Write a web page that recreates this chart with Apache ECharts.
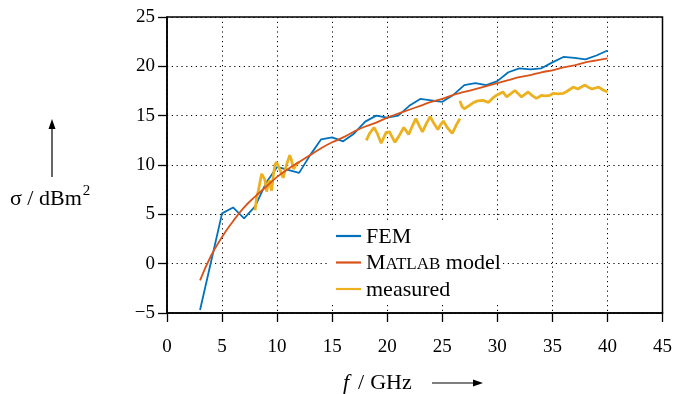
<!DOCTYPE html>
<html>
<head>
<meta charset="utf-8">
<script src="https://cdn.jsdelivr.net/npm/echarts@6/dist/echarts.min.js"></script>
<style>
html, body { margin: 0; padding: 0; background: #fff; }
#chart { width: 675px; height: 394px; }
</style>
</head>
<body>
<div id="chart"></div>
<script>
// frequency grid for the FEM and model curves (GHz)
var freqGHz = [3, 4, 5, 6, 7, 8, 9, 10, 11, 12, 13, 14, 15, 16, 17, 18, 19, 20, 21, 22,
  23, 24, 25, 26, 27, 28, 29, 30, 31, 32, 33, 34, 35, 36, 37, 38, 39, 40]
var femValues = [-4.7, 0.2, 5.1, 5.7, 4.6, 5.8, 8.2, 9.8, 9.5, 9.2, 11.0, 12.6, 12.8, 12.4, 13.2, 14.4, 15.0, 14.8, 15.0, 16.0,
  16.7, 16.55, 16.4, 17.1, 18.1, 18.3, 18.1, 18.5, 19.4, 19.8, 19.7, 19.8, 20.4, 20.95, 20.85, 20.7, 21.1, 21.6]
var modelValues = [-1.7, 0.8, 2.7, 4.3, 5.7, 6.8, 7.8, 8.8, 9.6, 10.3, 11.0, 11.7, 12.3, 12.8, 13.4, 13.9, 14.3, 14.8, 15.2, 15.6,
  16.0, 16.4, 16.7, 17.1, 17.4, 17.7, 18.0, 18.3, 18.6, 18.9, 19.1, 19.4, 19.6, 19.9, 20.1, 20.4, 20.6, 20.8]

// measured data, three separate sweeps [f, sigma]
var measuredLow = [[8.0, 5.4], [8.15, 6.8], [8.3, 7.4], [8.45, 8.3], [8.6, 9.1], [8.7, 9.3], [8.8, 8.7], [8.9, 8.45],
  [9.05, 7.3], [9.15, 7.9], [9.3, 8.45], [9.4, 7.8], [9.5, 7.4], [9.65, 8.9], [9.8, 10.0], [9.95, 10.3], [10.1, 10.15],
  [10.3, 9.4], [10.55, 8.7], [10.85, 10.0], [11.15, 11.0], [11.3, 10.5], [11.5, 9.6], [11.75, 10.1], [12.0, 10.3]]
var measuredMid = [[18.1, 12.5], [18.4, 13.2], [18.8, 13.8], [19.1, 13.2], [19.45, 12.2], [19.9, 13.3], [20.2, 13.35],
  [20.7, 12.3], [21.1, 13.0], [21.5, 13.8], [21.95, 13.1], [22.3, 14.0], [22.6, 14.7], [22.9, 14.0], [23.2, 13.35],
  [23.55, 14.2], [23.9, 14.9], [24.25, 14.2], [24.6, 13.6], [24.85, 14.1], [25.1, 14.45], [25.45, 13.8], [25.9, 13.2],
  [26.25, 14.0], [26.6, 14.7]]
var measuredHigh = [[26.6, 16.5], [26.8, 15.9], [27.0, 15.7], [27.4, 16.0], [27.8, 16.3], [28.2, 16.5], [28.7, 16.55],
  [29.2, 16.35], [29.6, 16.8], [29.9, 17.05], [30.5, 17.4], [30.85, 16.9], [31.2, 17.2], [31.6, 17.55], [32.2, 16.9],
  [32.8, 17.4], [33.2, 17.0], [33.55, 16.75], [34.0, 17.05], [34.4, 17.0], [34.75, 17.05], [35.05, 17.25], [35.5, 17.2],
  [35.96, 17.25], [36.3, 17.45], [36.9, 17.9], [37.3, 17.7], [37.96, 18.1], [38.3, 17.85], [38.6, 17.7], [39.2, 17.9],
  [39.6, 17.6], [40.0, 17.4]]

var legendNames = ['FEM', 'MATLAB model', 'measured']

var serif = '"Liberation Serif", "DejaVu Serif", serif'
var colors = { fem: '#0072BD', model: '#D95319', measured: '#EDB120' }

function pairs (xs, ys) {
  return xs.map(function (x, i) { return [x, ys[i]] })
}

function measuredSeries (data) {
  return {
    name: 'measured',
    type: 'line',
    data: data,
    symbol: 'none',
    lineStyle: { color: colors.measured, width: 2.8 },
    itemStyle: { color: colors.measured },
    z: 3
  }
}

var myChart = echarts.init(document.getElementById('chart'))
var option = {
  animation: false,
  grid: {
    left: 167,
    right: 12,
    top: 17,
    bottom: 81,
    show: true,
    borderColor: '#000',
    borderWidth: 1.5,
    backgroundColor: 'transparent'
  },
  xAxis: {
    type: 'value',
    min: 0,
    max: 45,
    interval: 5,
    axisLine: { onZero: false, lineStyle: { color: '#000', width: 1.6 } },
    axisTick: { inside: false, length: 9, lineStyle: { color: '#000', width: 1.3 } },
    axisLabel: { color: '#000', fontFamily: serif, fontSize: 19, margin: 25 },
    splitLine: { show: true, lineStyle: { color: '#000', width: 1, type: [1.2, 3.6] } }
  },
  yAxis: {
    type: 'value',
    min: -5,
    max: 25,
    interval: 5,
    axisLine: { onZero: false, lineStyle: { color: '#000', width: 1.6 } },
    axisTick: { inside: false, length: 9, lineStyle: { color: '#000', width: 1.3 } },
    axisLabel: {
      color: '#000',
      fontFamily: serif,
      fontSize: 19,
      margin: 12,
      formatter: function (v) { return v < 0 ? '\u2212' + Math.abs(v) : String(v) }
    },
    splitLine: { show: true, lineStyle: { color: '#000', width: 1, type: [1.2, 3.6] } }
  },
  legend: {
    data: legendNames,
    orient: 'vertical',
    left: 328,
    top: 222,
    padding: [2, 2, 2, 8],
    backgroundColor: '#fff',
    icon: 'rect',
    itemWidth: 25,
    itemHeight: 2.2,
    itemGap: 2.5,
    z: 10,
    formatter: function (name) {
      if (name === 'MATLAB model') return '{a|M}{b|ATLAB}{a| model}'
      return '{a|' + name + '}'
    },
    textStyle: {
      color: '#000',
      fontFamily: serif,
      fontSize: 22,
      lineHeight: 24,
      rich: {
        a: { fontFamily: serif, fontSize: 22, color: '#000', lineHeight: 24, verticalAlign: 'bottom' },
        b: { fontFamily: serif, fontSize: 17, color: '#000', lineHeight: 20, verticalAlign: 'bottom', padding: [0, 0, 1, 0] }
      }
    }
  },
  graphic: [
    {
      type: 'text',
      left: 10,
      top: 184,
      style: {
        text: '{t|\u03c3 / dBm}{s|2}',
        fill: '#000',
        rich: {
          t: { fontFamily: serif, fontSize: 22, lineHeight: 26, verticalAlign: 'bottom', fill: '#000' },
          s: { fontFamily: serif, fontSize: 15, lineHeight: 26, verticalAlign: 'top', padding: [0, 0, 8, 1], fill: '#000' }
        }
      }
    },
    {
      type: 'line',
      shape: { x1: 52, y1: 177, x2: 52, y2: 128 },
      style: { stroke: '#000', lineWidth: 1.2 }
    },
    {
      type: 'polygon',
      shape: { points: [[52, 119], [48.5, 129], [55.5, 129]] },
      style: { fill: '#000' }
    },
    {
      type: 'text',
      left: 343,
      top: 372,
      style: {
        text: '{i|f}{t|/}{t|GHz}',
        fill: '#000',
        rich: {
          i: { fontFamily: serif, fontStyle: 'italic', fontSize: 22, padding: [0, 9, 0, 0], fill: '#000' },
          t: { fontFamily: serif, fontSize: 22, padding: [0, 6, 0, 0], fill: '#000' }
        }
      }
    },
    {
      type: 'line',
      shape: { x1: 432, y1: 383, x2: 474, y2: 383 },
      style: { stroke: '#000', lineWidth: 1.2 }
    },
    {
      type: 'polygon',
      shape: { points: [[483, 383], [473, 379.5], [473, 386.5]] },
      style: { fill: '#000' }
    }
  ],
  series: [
    {
      name: 'FEM',
      type: 'line',
      data: pairs(freqGHz, femValues),
      symbol: 'none',
      lineStyle: { color: colors.fem, width: 1.8 },
      itemStyle: { color: colors.fem },
      z: 2
    },
    {
      name: 'MATLAB model',
      type: 'line',
      data: pairs(freqGHz, modelValues),
      symbol: 'none',
      smooth: true,
      lineStyle: { color: colors.model, width: 1.8 },
      itemStyle: { color: colors.model },
      z: 4
    },
    measuredSeries(measuredLow),
    measuredSeries(measuredMid),
    measuredSeries(measuredHigh)
  ]
}
myChart.setOption(option)
</script>
</body>
</html>
